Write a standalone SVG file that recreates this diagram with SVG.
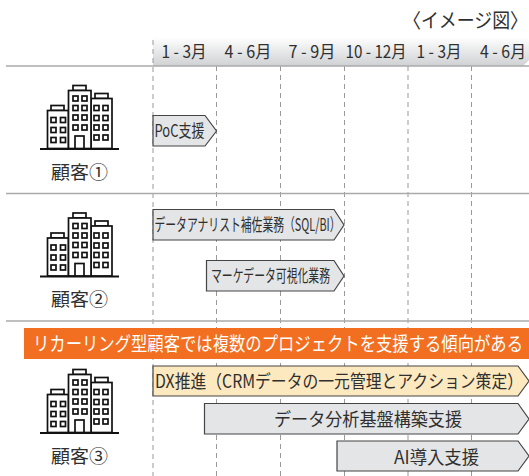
<svg xmlns="http://www.w3.org/2000/svg" width="529" height="476" viewBox="0 0 529 476">
<style>
text{font-family:"Noto Sans CJK JP","Noto Sans",sans-serif;fill:#2f2f2f}
.h{font-size:17px;text-anchor:middle}
.c{font-size:18.500px;text-anchor:middle}
.b{font-size:17px}
.l{font-size:20px}
.rule{stroke:#aaa;stroke-width:1.3;fill:none}
.grid{stroke:#999;stroke-width:1;stroke-dasharray:5 4;fill:none}
.bar{fill:#e4e5e6;stroke:#444;stroke-width:1.2}
.bar2{fill:#fde9c0;stroke:#444;stroke-width:1.2}
.ic{fill:#fff;stroke:#111;stroke-width:1.7}
.ground{stroke:#111;stroke-width:2.2}
</style>
<defs>
<linearGradient id="hg" x1="0" y1="0" x2="0" y2="1"><stop offset="0" stop-color="#fff"/><stop offset="1" stop-color="#cfd1d3"/></linearGradient>
<g id="bld">
<rect class="ic" x="51" y="105.500" width="13" height="5"/>
<rect class="ic" x="73" y="85.500" width="13" height="5"/>
<rect class="ic" x="95" y="93.500" width="13" height="5"/>
<rect class="ic" x="47.500" y="110.500" width="21" height="38"/>
<rect class="ic" x="91" y="98.500" width="21" height="50"/>
<rect class="ic" x="68.500" y="90.500" width="22.500" height="58"/>
<g class="ic">
<rect x="73" y="96" width="5" height="5"/><rect x="82" y="96" width="5" height="5"/>
<rect x="73" y="105.500" width="5" height="5"/><rect x="82" y="105.500" width="5" height="5"/>
<rect x="73" y="115" width="5" height="5"/><rect x="82" y="115" width="5" height="5"/>
<rect x="73" y="125" width="5" height="5"/><rect x="82" y="125" width="5" height="5"/>
<rect x="75" y="136" width="9" height="12.500"/>
<rect x="51" y="117.500" width="5" height="5"/><rect x="60.500" y="117.500" width="5" height="5"/>
<rect x="51" y="127.500" width="5" height="5"/><rect x="60.500" y="127.500" width="5" height="5"/>
<rect x="51" y="137.500" width="5" height="5"/><rect x="60.500" y="137.500" width="5" height="5"/>
<rect x="94" y="105.500" width="5" height="5"/><rect x="103" y="105.500" width="5" height="5"/>
<rect x="94" y="115.500" width="5" height="5"/><rect x="103" y="115.500" width="5" height="5"/>
<rect x="94" y="125" width="5" height="5"/><rect x="103" y="125" width="5" height="5"/>
<rect x="94" y="135" width="5" height="5"/><rect x="103" y="135" width="5" height="5"/>
</g>
<line class="ground" x1="40" y1="149" x2="119" y2="149"/>
</g>
</defs>

<g id="header">
<path d="M153 37H525Q528 37 529 42V60L523 66H153Z" fill="url(#hg)"/>
<text x="403" y="28" class="l" textLength="125" lengthAdjust="spacingAndGlyphs">〈イメージ図〉</text>
<text class="h" x="184" y="58" textLength="45" lengthAdjust="spacingAndGlyphs">1 - 3月</text>
<text class="h" x="248" y="58" textLength="47" lengthAdjust="spacingAndGlyphs">4 - 6月</text>
<text class="h" x="312" y="58" textLength="47" lengthAdjust="spacingAndGlyphs">7 - 9月</text>
<text class="h" x="376" y="58" textLength="61" lengthAdjust="spacingAndGlyphs">10 - 12月</text>
<text class="h" x="439" y="58" textLength="45" lengthAdjust="spacingAndGlyphs">1 - 3月</text>
<text class="h" x="503" y="58" textLength="46" lengthAdjust="spacingAndGlyphs">4 - 6月</text>
</g>

<g id="connectors">
<line class="grid" x1="153" y1="40" x2="153" y2="476"/>
<line class="grid" x1="216.500" y1="66" x2="216.500" y2="476"/>
<line class="grid" x1="280.500" y1="66" x2="280.500" y2="476"/>
<line class="grid" x1="344.500" y1="66" x2="344.500" y2="476"/>
<line class="grid" x1="408" y1="66" x2="408" y2="476"/>
<line class="grid" x1="471.500" y1="66" x2="471.500" y2="476"/>
<line class="rule" x1="6" y1="66" x2="529" y2="66"/>
<line class="rule" x1="6" y1="193.500" x2="529" y2="193.500"/>
<line class="rule" x1="6" y1="321" x2="529" y2="321"/>
</g>

<g id="customer1"><use href="#bld"/><text class="c" x="79.500" y="179" textLength="57" lengthAdjust="spacingAndGlyphs">顧客①</text></g>
<g id="customer2"><use href="#bld" y="127.500"/><text class="c" x="79.500" y="306" textLength="57" lengthAdjust="spacingAndGlyphs">顧客②</text></g>
<g id="customer3"><use href="#bld" y="284"/><text class="c" x="79.500" y="463" textLength="57" lengthAdjust="spacingAndGlyphs">顧客③</text></g>

<g id="bar-poc"><path class="bar" d="M153 115.500H205L216.500 131L205 146H153Z"/><text class="b" x="154.500" y="137" textLength="50" lengthAdjust="spacingAndGlyphs">PoC支援</text></g>
<g id="bar-analyst"><path class="bar" d="M153 209.500H334L344 225L334 240H153Z"/><text class="b" x="154.500" y="231" textLength="186" lengthAdjust="spacingAndGlyphs">データアナリスト補佐業務（SQL/BI）</text></g>
<g id="bar-marketing"><path class="bar" d="M206.500 260.500H334L344 276L334 291H206.500Z"/><text class="b" x="211" y="282" textLength="119" lengthAdjust="spacingAndGlyphs">マーケデータ可視化業務</text></g>

<g id="banner"><rect x="24" y="328" width="505" height="31" fill="#f26f21"/><text x="33" y="351" font-size="19" style="fill:#fff" textLength="490" lengthAdjust="spacingAndGlyphs">リカーリング型顧客では複数のプロジェクトを支援する傾向がある</text></g>

<g id="bar-dx"><path class="bar2" d="M153 366H518L529 381L518 396H153Z"/><text x="155" y="388" font-size="18" textLength="368" lengthAdjust="spacingAndGlyphs">DX推進（CRMデータの一元管理とアクション策定）</text></g>
<g id="bar-data"><path class="bar" d="M204.500 403.500H518L529 419L518 434H204.500Z"/><text x="274" y="426" font-size="18" textLength="188" lengthAdjust="spacingAndGlyphs">データ分析基盤構築支援</text></g>
<g id="bar-ai"><path class="bar" d="M337 441H518L529 456L518 471H337Z"/><text x="394" y="464" font-size="18" textLength="85" lengthAdjust="spacingAndGlyphs">AI導入支援</text></g>
</svg>
